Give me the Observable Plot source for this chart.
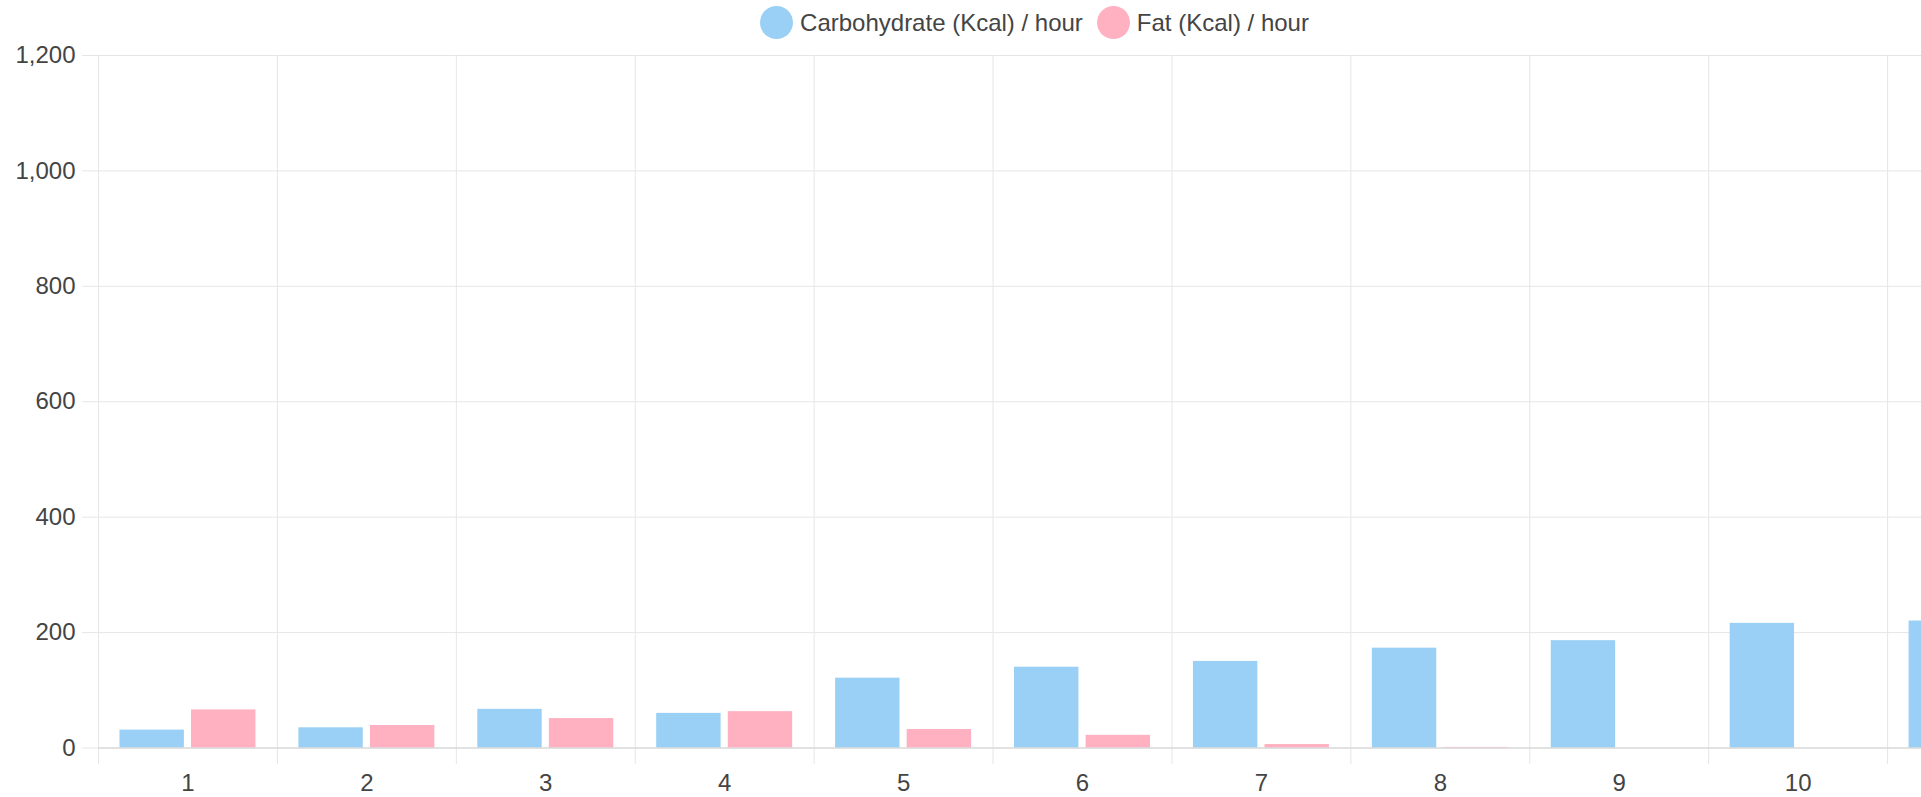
<!DOCTYPE html>
<html>
<head>
<meta charset="utf-8">
<script src="https://cdn.jsdelivr.net/npm/d3@7"></script>
<script src="https://cdn.jsdelivr.net/npm/@observablehq/plot@0.6"></script>
<style>
  html, body { margin: 0; padding: 0; background: #fff; overflow: hidden; }
  #wrap { position: relative; width: 2069px; height: 797px; font-family: "Liberation Sans", Arial, sans-serif; }
  #legend { position: absolute; left: 0; top: 6px; width: 100%; display: flex; justify-content: center; align-items: center; font-size: 24px; color: #444; z-index: 2; }
  .item { display: flex; align-items: center; margin: 0 7px; }
  .dot { width: 33px; height: 33px; border-radius: 50%; margin-right: 7px; }
  #chart { position: absolute; left: 0; top: 0; }
</style>
</head>
<body>
<div id="wrap">
  <div id="legend"></div>
  <div id="chart"></div>
</div>
<script>
const categories = ["1", "2", "3", "4", "5", "6", "7", "8", "9", "10", "11"];
const seriesNames = ["Carbohydrate (Kcal) / hour", "Fat (Kcal) / hour"];
const seriesColors = ["#9ad0f5", "#ffb1c1"];
const carbohydrate = [31, 35, 67, 60, 121, 140, 150, 173, 186, 216, 220];
const fat = [66, 39, 51, 63, 32, 22, 6, 1, 0, 0, 0];
const yTicks = [0, 200, 400, 600, 800, 1000, 1200];

const data = [];
categories.forEach((c, i) => {
  data.push({cat: c, series: seriesNames[0], value: carbohydrate[i]});
  data.push({cat: c, series: seriesNames[1], value: fat[i]});
});

// legend
const legend = document.getElementById("legend");
seriesNames.forEach((name, i) => {
  const item = document.createElement("div");
  item.className = "item";
  const dot = document.createElement("span");
  dot.className = "dot";
  dot.style.background = seriesColors[i];
  const label = document.createElement("span");
  label.textContent = name;
  item.appendChild(dot);
  item.appendChild(label);
  legend.appendChild(item);
});

const grid = "#e6e6e6";
const chart = Plot.plot({
  width: 2069,
  height: 797,
  marginTop: 55,
  marginBottom: 49.5,
  marginLeft: 98,
  marginRight: 3,
  style: {fontFamily: "'Liberation Sans', Arial, sans-serif", fontSize: "24px", background: "transparent", overflow: "visible"},
  fx: {domain: categories, paddingInner: 0, paddingOuter: 0, round: false, label: null},
  x: {domain: seriesNames, paddingInner: 0.1, paddingOuter: 0.3, round: false, axis: null},
  y: {domain: [0, 1200], ticks: yTicks, label: null},
  color: {domain: seriesNames, range: seriesColors},
  marks: [
    Plot.gridY(yTicks, {stroke: grid, strokeOpacity: 1}),
    Plot.frame({anchor: "left", stroke: grid, strokeOpacity: 1, insetBottom: -15.5}),
    Plot.axisY(yTicks, {tickSize: 16, tickPadding: 7, stroke: grid, strokeOpacity: 1, fill: "#444", tickFormat: d3.format(","), label: null}),
    Plot.barY(data, {fx: "cat", x: "series", y: "value", fill: "series"}),
    Plot.ruleY([0], {stroke: "#d0d0d0"}),
    Plot.axisFx({anchor: "bottom", tickSize: 0, tickPadding: 26, fill: "#444", label: null})
  ]
});
document.getElementById("chart").appendChild(chart);
</script>
</body>
</html>
